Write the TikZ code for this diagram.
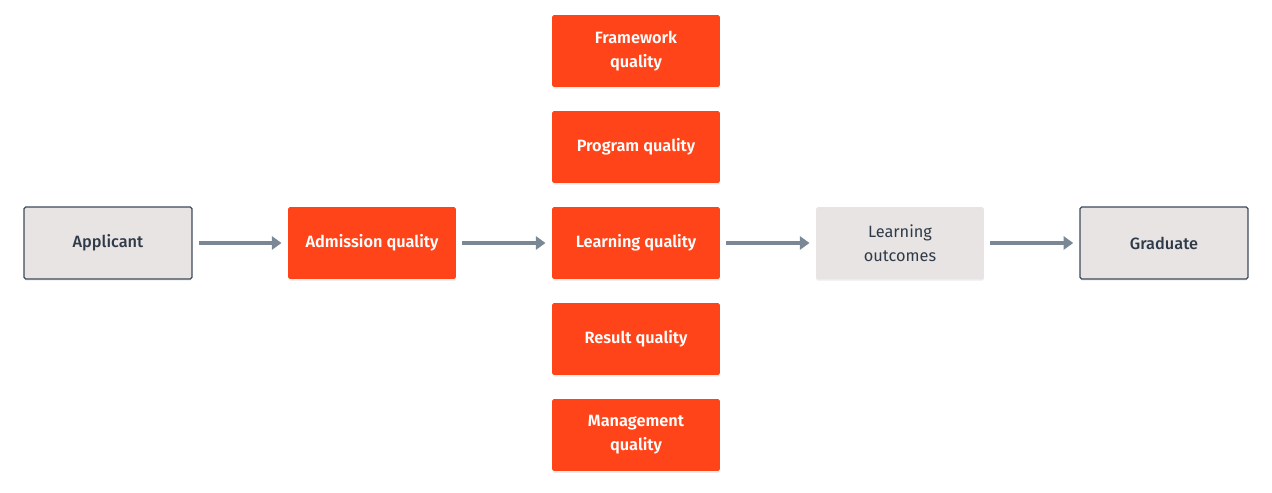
\documentclass[tikz,border=0pt]{standalone}
\usepackage{fontspec}
\setmainfont{Fira Sans}[BoldFont={Fira Sans SemiBold}]
\newfontfamily\medfont{Fira Sans Medium}
\usepackage{tikz}
\usetikzlibrary{calc,positioning,shadows,arrows.meta}
\definecolor{qorange}{HTML}{FF4419}
\definecolor{qgray}{HTML}{E8E4E3}
\definecolor{qedge}{HTML}{3D4A5A}
\definecolor{qtext}{HTML}{2E3A48}
\definecolor{qarrow}{HTML}{7A8896}
\tikzset{
    box/.style={minimum width=3.36cm,minimum height=1.44cm,align=center,
                rounded corners=1pt,font=\fontsize{9.3}{13.5}\selectfont,
                drop shadow={opacity=0.15,shadow xshift=0pt,shadow yshift=-1pt}},
    qualbox/.style={box,fill=qorange,text=white,font=\fontsize{9.3}{13.5}\selectfont\bfseries},
    endbox/.style={box,fill=qgray,draw=qedge,line width=0.7pt,text=qtext,font=\fontsize{9.3}{13.5}\selectfont\medfont},
    midbox/.style={box,fill=qgray,text=qtext},
    flow/.style={line width=2pt,qarrow,-{Triangle[length=5.5pt,width=7.5pt]},shorten <=3.5pt,shorten >=3.5pt}
}

\begin{document}
\begin{tikzpicture}[x=0.02cm,y=-0.02cm]
                    \useasboundingbox (0,0) rectangle (1272,493);
                    \node[endbox] (applicant) at (108,243) {Applicant};
                    \node[qualbox] (admission) at (372,243) {Admission quality};
                    \node[qualbox] (framework) at (636,51) {Framework\\quality};
                    \node[qualbox] (program) at (636,147) {Program quality};
                    \node[qualbox] (learning) at (636,243) {Learning quality};
                    \node[qualbox] (result) at (636,339) {Result quality};
                    \node[qualbox] (management) at (636,435) {Management\\quality};
                    \node[midbox] (outcomes) at (900,243) {Learning\\outcomes};
                    \node[endbox] (graduate) at (1164,243) {Graduate};
                    \draw[flow] (applicant) -- (admission);
                    \draw[flow] (admission) -- (learning);
                    \draw[flow] (learning) -- (outcomes);
                    \draw[flow] (outcomes) -- (graduate);
                \end{tikzpicture}
\end{document}
